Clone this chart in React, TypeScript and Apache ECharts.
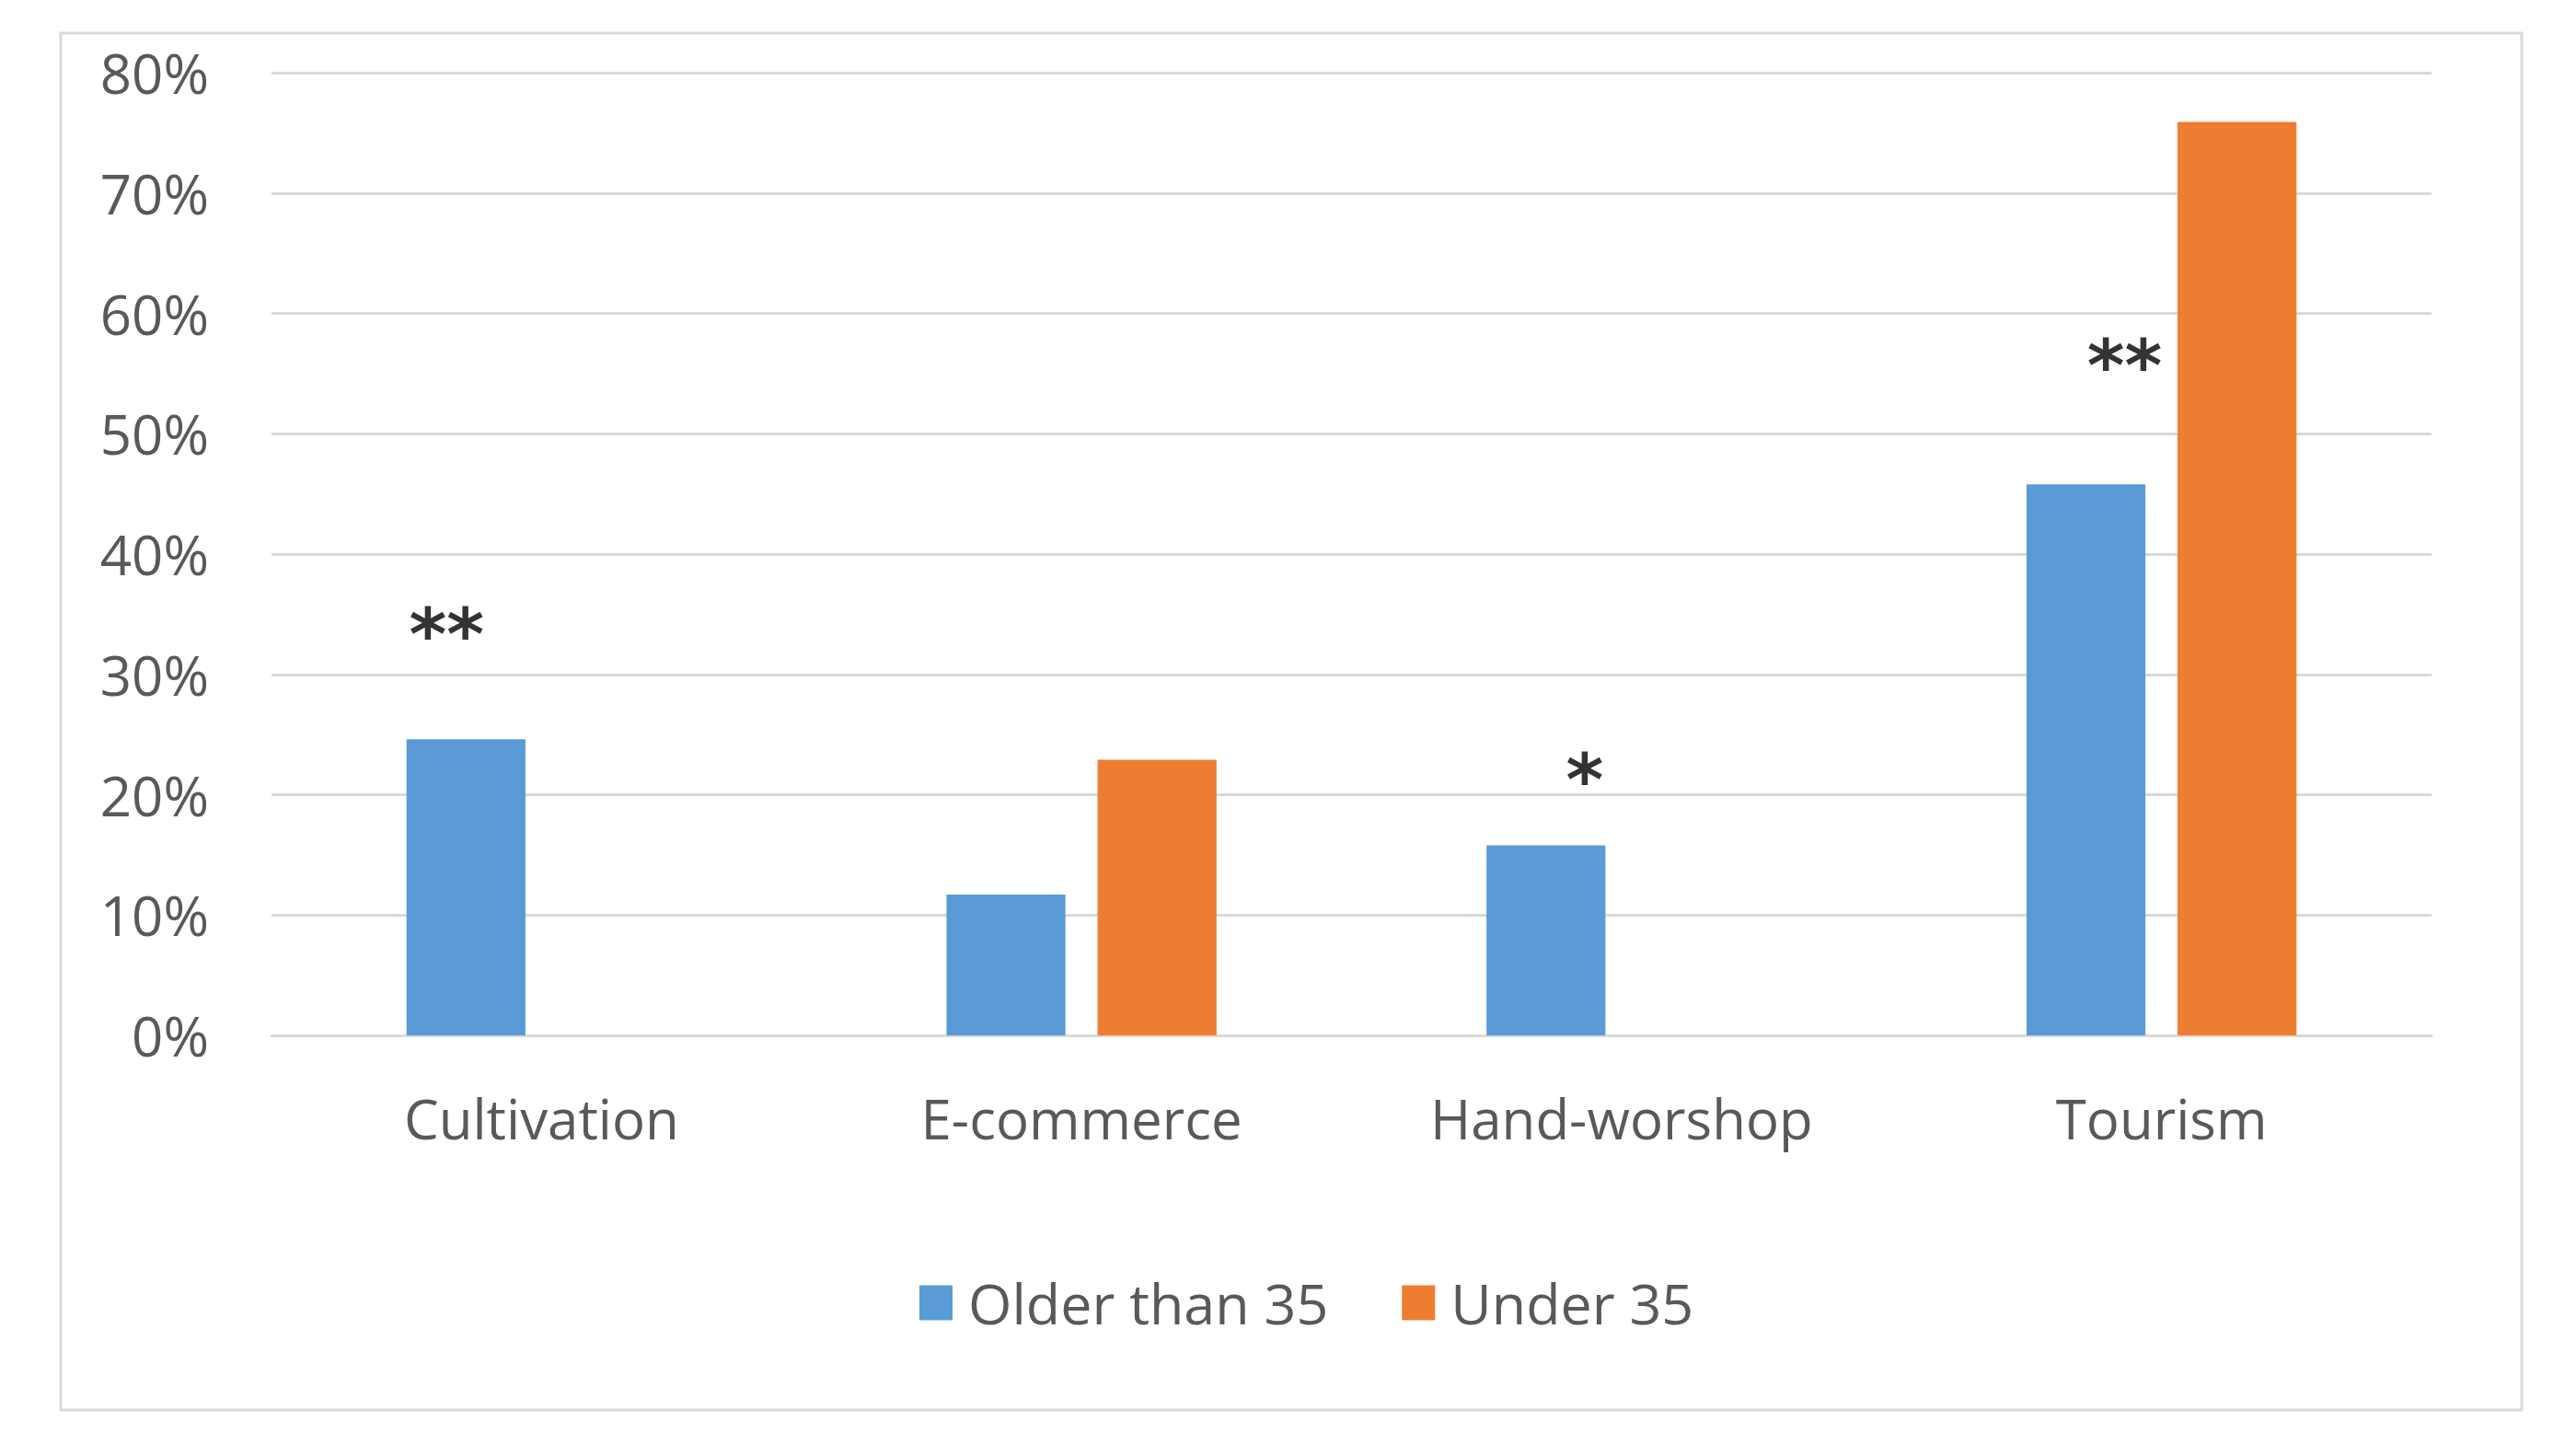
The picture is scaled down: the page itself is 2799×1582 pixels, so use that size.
import React, { useEffect, useRef } from "react";
import * as echarts from "echarts";

const categories = ["Cultivation", "E-commerce", "Hand-worshop", "Tourism"];
const olderThan35 = [24.6, 11.7, 15.8, 45.8];
const under35: (number | null)[] = [null, 22.9, null, 75.9];
const yTicks = { min: 0, max: 80, interval: 10 };
// significance marks: [category index, y value, text, x offset from category centre]
const marksText = ["**", "*", "**"];
const marksCategory = [0, 2, 3];
const marksValue = [33.3, 21.2, 55.6];
const marksOffset = [-103, -40, -40];

const FONT = "'Open Sans', 'Liberation Sans', sans-serif";
const GREY = "#595959";

export default function App() {
  const ref = useRef<HTMLDivElement>(null);
  useEffect(() => {
    if (!ref.current) return;
    const chart = echarts.init(ref.current, undefined, { renderer: "svg" });
    chart.setOption({
      animation: false,
      backgroundColor: "#ffffff",
      graphic: [
        {
          type: "rect",
          shape: { x: 66, y: 36, width: 2674, height: 1496 },
          style: { fill: "none", stroke: "#d9d9d9", lineWidth: 3 },
          silent: true,
        },
      ],
      grid: { left: 295, right: 157, top: 79, bottom: 1582 - 1125 },
      legend: {
        data: ["Older than 35", "Under 35"],
        left: 994,
        top: 1380,
        itemWidth: 36,
        itemHeight: 38,
        itemGap: 80,
        icon: "rect",
        textStyle: { fontFamily: FONT, fontSize: 61, color: GREY, padding: [0, 0, 0, 12] },
      },
      xAxis: {
        type: "category",
        data: categories,
        axisTick: { show: false },
        axisLine: { show: true, lineStyle: { color: "#d9d9d9", width: 3 } },
        axisLabel: { fontFamily: FONT, fontSize: 60, color: GREY, margin: 60 },
      },
      yAxis: {
        type: "value",
        min: yTicks.min,
        max: yTicks.max,
        interval: yTicks.interval,
        axisLine: { show: false },
        axisTick: { show: false },
        axisLabel: { fontFamily: FONT, fontSize: 60, color: GREY, margin: 68, formatter: "{value}%" },
        splitLine: { lineStyle: { color: "#d9d9d9", width: 3 } },
      },
      series: [
        {
          name: "Older than 35",
          type: "bar",
          data: olderThan35,
          itemStyle: { color: "#5B9BD5" },
          barGap: "27%",
          barCategoryGap: "50%",
        },
        {
          name: "Under 35",
          type: "bar",
          data: under35,
          itemStyle: { color: "#ED7D31" },
          barGap: "27%",
          barCategoryGap: "50%",
        },
        {
          name: "marks",
          type: "scatter",
          symbolSize: 0,
          silent: true,
          data: marksText.map((t, i) => ({
            value: [marksCategory[i], marksValue[i]],
            label: {
              show: true,
              formatter: t,
              position: "inside",
              offset: [marksOffset[i], 0],
              fontFamily: "'DejaVu Sans', sans-serif",
              fontWeight: "bold",
              fontSize: 78,
              color: "#000000",
            },
          })),
        },
      ],
    });
    return () => chart.dispose();
  }, []);
  return (
    <div
      ref={ref}
      style={{ position: "fixed", left: 0, top: 0, width: 2799, height: 1582 }}
    />
  );
}
